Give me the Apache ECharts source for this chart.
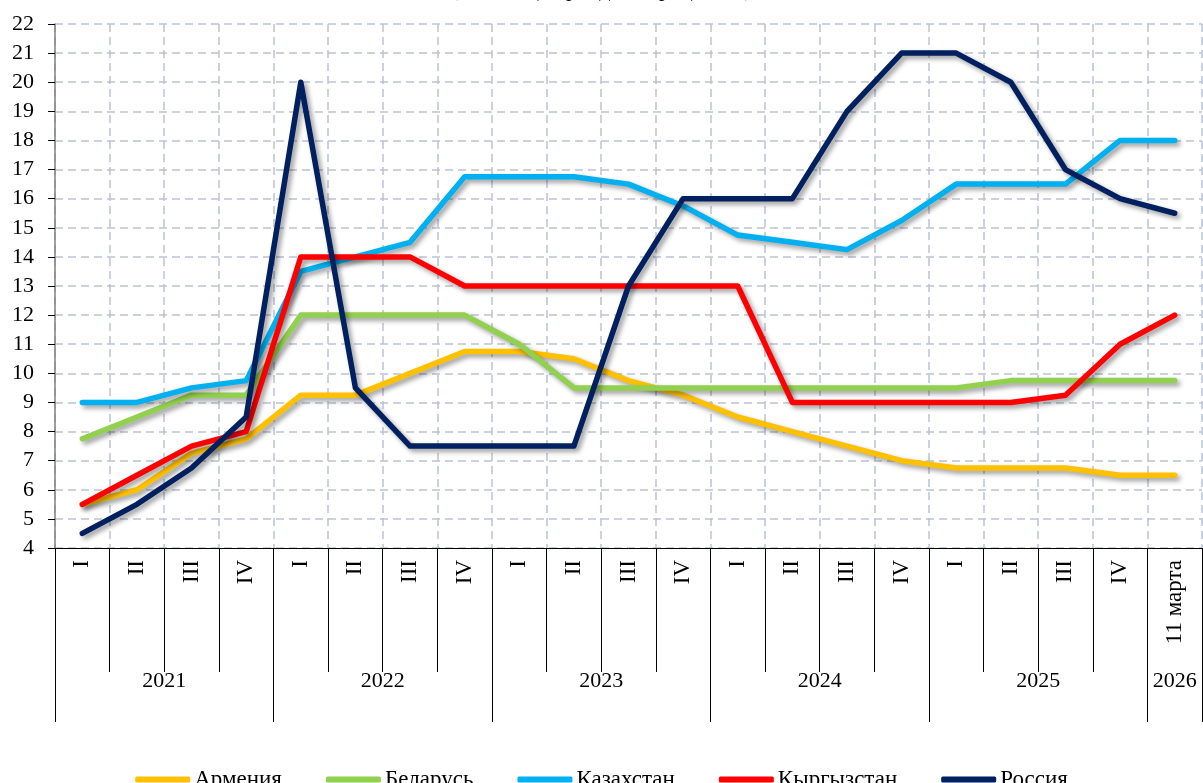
<!DOCTYPE html>
<html>
<head>
<meta charset="utf-8">
<script src="https://cdn.jsdelivr.net/npm/echarts@6/dist/echarts.min.js"></script>
<style>
  html, body { margin: 0; padding: 0; background: #fff; }
  #chart { width: 1203px; height: 783px; }
</style>
</head>
<body>
<div id="chart"></div>
<script>
const titleText = '(на конец периода, в процентах)';
const quarters = ['I','II','III','IV','I','II','III','IV','I','II','III','IV','I','II','III','IV','I','II','III','IV','11 марта'];
const years = ['2021','2022','2023','2024','2025','2026'];
const yearSpans = [4, 4, 4, 4, 4, 1];
const yTicks = { min: 4, max: 22, step: 1 };

const seriesNames = ['Армения', 'Беларусь', 'Казахстан', 'Кыргызстан', 'Россия'];
const armenia    = [5.5, 6, 7.25, 7.75, 9.25, 9.25, 10, 10.75, 10.75, 10.5, 9.75, 9.25, 8.5, 8, 7.5, 7, 6.75, 6.75, 6.75, 6.5, 6.5];
const belarus    = [7.75, 8.5, 9.25, 9.25, 12, 12, 12, 12, 11, 9.5, 9.5, 9.5, 9.5, 9.5, 9.5, 9.5, 9.5, 9.75, 9.75, 9.75, 9.75];
const kazakhstan = [9, 9, 9.5, 9.75, 13.5, 14, 14.5, 16.75, 16.75, 16.75, 16.5, 15.75, 14.75, 14.5, 14.25, 15.25, 16.5, 16.5, 16.5, 18, 18];
const kyrgyzstan = [5.5, 6.5, 7.5, 8, 14, 14, 14, 13, 13, 13, 13, 13, 13, 9, 9, 9, 9, 9, 9.25, 11, 12];
const russia     = [4.5, 5.5, 6.75, 8.5, 20, 9.5, 7.5, 7.5, 7.5, 7.5, 13, 16, 16, 16, 19, 21, 21, 20, 17, 16, 15.5];
const colors = ['#FFC000', '#92D050', '#00B0F0', '#FF0000', '#002060'];

const FONT = "'Liberation Serif', 'Times New Roman', serif";

// year-level boundaries and centers derived from spans
const yearBounds = [0];
const yearCenters = [];
yearSpans.forEach(function (s) {
  const start = yearBounds[yearBounds.length - 1];
  yearCenters.push(start + s / 2);
  yearBounds.push(start + s);
});

const dataSets = [armenia, belarus, kazakhstan, kyrgyzstan, russia];
const series = dataSets.map(function (d, i) {
  return {
    name: seriesNames[i],
    type: 'line',
    xAxisIndex: 0,
    data: d,
    symbol: 'none',
    smooth: false,
    lineStyle: {
      width: 5.5,
      color: colors[i],
      cap: 'round',
      join: 'round',
      shadowColor: 'rgba(0,0,0,0.4)',
      shadowBlur: 5,
      shadowOffsetX: 3,
      shadowOffsetY: 3
    },
    itemStyle: { color: colors[i] },
    z: 3 + i
  };
});

const chart = echarts.init(document.getElementById('chart'), null, { renderer: 'canvas' });
chart.setOption({
  animation: false,
  title: {
    text: titleText,
    left: 'center',
    top: -26,
    textStyle: { fontFamily: FONT, fontSize: 22, fontWeight: 'normal', color: '#000' }
  },
  legend: {
    data: seriesNames.map(function (n) { return { name: n, icon: 'roundRect' }; }),
    left: 'center',
    top: 763,
    itemWidth: 55,
    itemHeight: 6,
    itemGap: 44,
    textStyle: { fontFamily: FONT, fontSize: 23, color: '#000', padding: [0, 0, 0, -1] }
  },
  grid: { left: 55, right: 1, top: 24, bottom: 235, containLabel: false },
  xAxis: [
    {
      type: 'category',
      data: quarters,
      boundaryGap: true,
      position: 'bottom',
      axisLine: { show: true, lineStyle: { color: '#000', width: 1 } },
      axisTick: { show: true, interval: 0, length: 124, lineStyle: { color: '#000', width: 1 } },
      axisLabel: { interval: 0, rotate: 90, margin: 12, fontFamily: FONT, fontSize: 23, color: '#000' },
      splitLine: { show: true, interval: 0, lineStyle: { color: '#BCC2D3', width: 1.5, type: [8, 5] } }
    },
    {
      type: 'value',
      position: 'bottom',
      min: 0,
      max: quarters.length,
      axisLine: { show: false },
      axisTick: { show: true, customValues: yearBounds, length: 174, lineStyle: { color: '#000', width: 1 } },
      axisLabel: {
        customValues: yearCenters,
        margin: 122,
        fontFamily: FONT, fontSize: 22, color: '#000',
        formatter: function (v) {
          const idx = yearCenters.findIndex(function (c) { return Math.abs(c - v) < 1e-6; });
          return idx >= 0 ? years[idx] : '';
        }
      },
      splitLine: { show: false }
    }
  ],
  yAxis: {
    type: 'value',
    min: yTicks.min,
    max: yTicks.max,
    interval: yTicks.step,
    axisLine: { show: true, lineStyle: { color: '#7f7f7f', width: 1.5 } },
    axisTick: { show: true, length: 7, lineStyle: { color: '#000', width: 1 } },
    axisLabel: { margin: 21, fontFamily: FONT, fontSize: 22, color: '#000' },
    splitLine: { show: true, lineStyle: { color: '#BCC2D3', width: 1.5, type: [8, 5] } }
  },
  series: series
});
</script>
</body>
</html>
